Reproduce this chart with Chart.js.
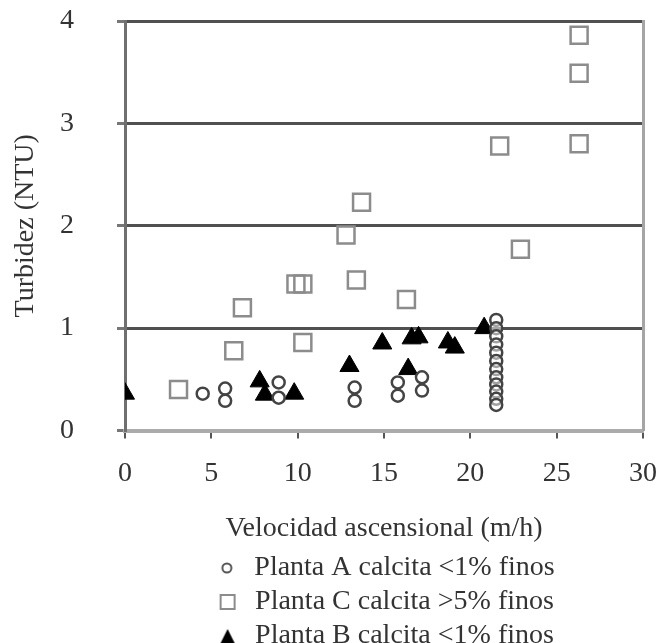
<!DOCTYPE html>
<html>
<head>
<meta charset="utf-8">
<script src="https://cdn.jsdelivr.net/npm/chart.js@4.4.1/dist/chart.umd.min.js"></script>
<style>
  html, body { margin: 0; padding: 0; background: #fff; overflow: hidden; }
  #wrap { position: relative; width: 660px; height: 660px; }
</style>
</head>
<body>
<div id="wrap"><canvas id="chart"></canvas></div>
<script>
// tick values
const xTicks = [0, 5, 10, 15, 20, 25, 30];
const yTicks = [0, 1, 2, 3, 4];

// Planta A calcita <1% finos (circles)
const plantaAx = [4.5, 5.8, 5.8, 8.9, 8.9, 13.3, 13.3, 15.8, 15.8, 17.2, 17.2,
  21.5, 21.5, 21.5, 21.5, 21.5, 21.5, 21.5, 21.5, 21.5, 21.5, 21.5, 21.5];
const plantaAy = [0.36, 0.41, 0.29, 0.47, 0.32, 0.42, 0.29, 0.47, 0.34, 0.52, 0.39,
  1.08, 1.0, 0.92, 0.84, 0.76, 0.68, 0.6, 0.52, 0.45, 0.38, 0.31, 0.25];

// Planta C calcita >5% finos (squares)
const plantaCx = [3.1, 6.3, 6.8, 9.9, 10.3, 10.3, 12.8, 13.4, 13.7, 16.3, 21.7, 22.9, 26.3, 26.3, 26.3];
const plantaCy = [0.40, 0.78, 1.2, 1.43, 1.43, 0.86, 1.91, 1.47, 2.23, 1.28, 2.78, 1.77, 3.86, 3.49, 2.80];

// Planta B calcita <1% finos (triangles)
const plantaBx = [0, 7.8, 8.1, 9.8, 13.0, 14.9, 16.4, 16.6, 17.0, 18.7, 19.1, 20.8];
const plantaBy = [0.36, 0.48, 0.35, 0.36, 0.63, 0.85, 0.60, 0.90, 0.91, 0.86, 0.81, 1.0];

const labels = ["Planta A calcita <1% finos", "Planta C calcita >5% finos", "Planta B calcita <1% finos"];

const serif = "'Liberation Serif', 'Times New Roman', serif";
const textColor = "#333";

function pts(xs, ys) {
  return xs.map((x, i) => ({ x: x, y: ys[i] }));
}

// small legend icons
function legendIcon(kind) {
  const c = document.createElement("canvas");
  c.width = 18;
  c.height = 18;
  const g = c.getContext("2d");
  if (kind === "circle") {
    g.strokeStyle = "#555";
    g.lineWidth = 2;
    g.beginPath();
    g.arc(9, 9, 4.5, 0, Math.PI * 2);
    g.stroke();
  } else if (kind === "rect") {
    g.strokeStyle = "#8c8c8c";
    g.lineWidth = 2;
    g.strokeRect(2, 2, 14, 14);
  } else {
    g.fillStyle = "#000";
    g.beginPath();
    g.moveTo(9, 2);
    g.lineTo(16, 16);
    g.lineTo(2, 16);
    g.closePath();
    g.fill();
  }
  return c;
}
const icons = [legendIcon("circle"), legendIcon("rect"), legendIcon("triangle")];

new Chart(document.getElementById("chart"), {
  type: "scatter",
  data: {
    datasets: [
      {
        label: labels[0],
        data: pts(plantaAx, plantaAy),
        pointStyle: "circle",
        pointRadius: 6,
        borderWidth: 2.5,
        borderColor: "#444",
        backgroundColor: "rgba(255,255,255,0.5)",
      },
      {
        label: labels[1],
        data: pts(plantaCx, plantaCy),
        pointStyle: "rect",
        pointRadius: 12,
        borderWidth: 2.5,
        borderColor: "#8c8c8c",
        backgroundColor: "rgba(255,255,255,0)",
      },
      {
        label: labels[2],
        data: pts(plantaBx, plantaBy),
        pointStyle: "triangle",
        pointRadius: 11,
        borderWidth: 1,
        borderColor: "#000",
        backgroundColor: "#000",
      },
    ],
  },
  options: {
    responsive: true,
    maintainAspectRatio: false,
    animation: false,
    events: [],
    layout: { padding: { left: 0, right: 17, top: 21, bottom: 0 } },
    scales: {
      x: {
        type: "linear",
        min: 0,
        max: 30,
        afterBuildTicks: (s) => { s.ticks = xTicks.map((v) => ({ value: v })); },
        afterFit: (s) => {
          s.height = 117.5;
          s.paddingLeft = 0;
          s.paddingRight = 0;
        },
        ticks: { font: { family: serif, size: 28 }, color: textColor, padding: 18 },
        grid: { drawOnChartArea: false, tickLength: 8, color: "#555", lineWidth: 2 },
        border: { color: "#ababab", width: 4 },
        title: {
          display: true,
          text: "Velocidad ascensional (m/h)",
          font: { family: serif, size: 28 },
          color: textColor,
          padding: { top: 0, bottom: 3 },
        },
      },
      y: {
        min: 0,
        max: 4,
        afterBuildTicks: (s) => { s.ticks = yTicks.map((v) => ({ value: v })); },
        afterFit: (s) => {
          s.width = 125;
          s.paddingTop = 0;
          s.paddingBottom = 0;
        },
        ticks: { font: { family: serif, size: 28 }, color: textColor, padding: 43 },
        grid: {
          color: (c) => (c.tick && c.tick.value === 0 ? "rgba(0,0,0,0)" : "#505050"),
          lineWidth: 3,
          tickLength: 8,
          tickColor: "#777",
        },
        border: { color: "#6f6f6f", width: 3 },
        title: {
          display: true,
          text: "Turbidez (NTU)",
          font: { family: serif, size: 28 },
          color: textColor,
          padding: { top: 9, bottom: 0 },
        },
      },
      y2: {
        position: "right",
        min: 0,
        max: 4,
        afterFit: (s) => {
          s.width = 0;
          s.paddingTop = 0;
          s.paddingBottom = 0;
        },
        ticks: { display: false },
        grid: { drawOnChartArea: false, drawTicks: false },
        border: { color: "#a5a5a5", width: 3 },
      },
    },
    plugins: {
      tooltip: { enabled: false },
      legend: {
        position: "bottom",
        fullSize: false,
        labels: {
          usePointStyle: true,
          boxWidth: 27,
          boxHeight: 18,
          padding: 6,
          color: textColor,
          font: { family: serif, size: 28 },
          generateLabels: (chart) =>
            chart.data.datasets.map((d, i) => ({
              text: d.label,
              pointStyle: icons[i],
              fillStyle: "transparent",
              strokeStyle: "transparent",
              lineWidth: 0,
              hidden: false,
              datasetIndex: i,
              fontColor: textColor,
            })),
        },
      },
    },
  },
});
</script>
</body>
</html>
